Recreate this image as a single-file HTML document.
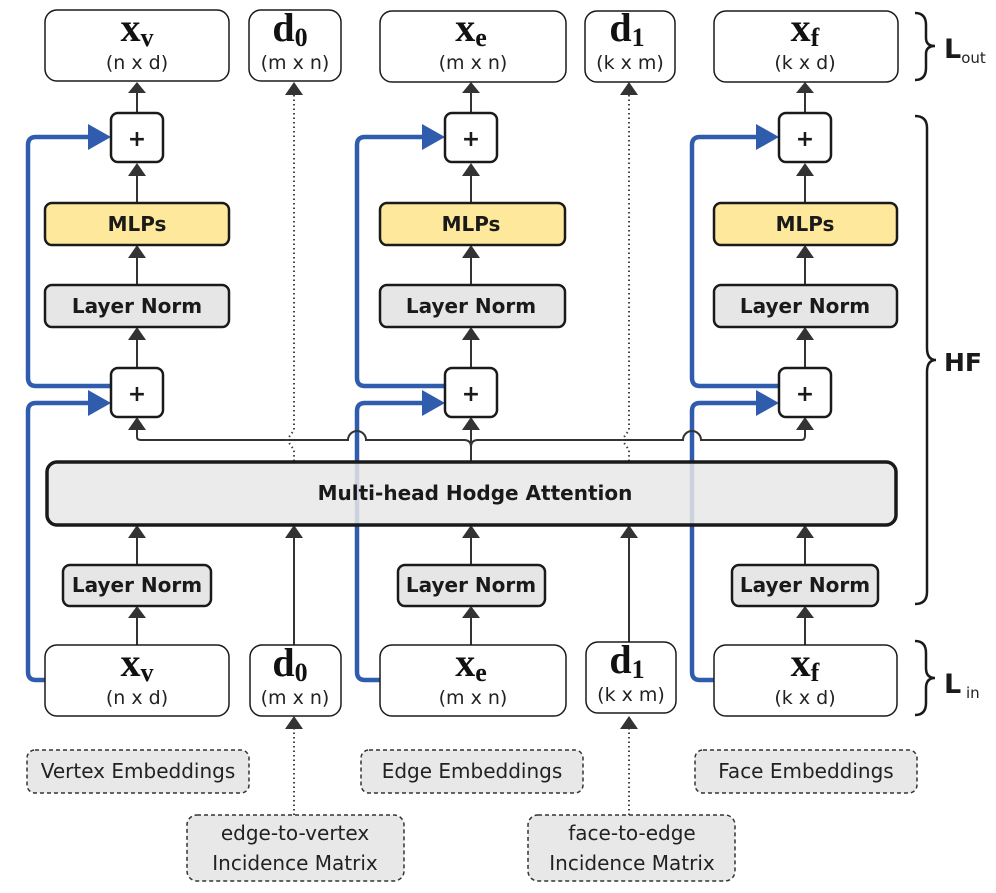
<!DOCTYPE html>
<html><head><meta charset="utf-8"><style>
html,body{margin:0;padding:0;background:#fff}
svg{display:block}
.b{font-family:"DejaVu Sans","Liberation Sans",sans-serif;font-weight:bold;fill:#1a1a1a}
.r{font-family:"DejaVu Sans","Liberation Sans",sans-serif;fill:#222}
.m{font-family:"Liberation Serif",serif;font-weight:bold;fill:#111}
</style></head><body>
<svg width="996" height="893" viewBox="0 0 996 893" xmlns="http://www.w3.org/2000/svg">
<g fill="none" stroke="#2f5cad" stroke-width="4.5" stroke-linejoin="round">
<path d="M45 680 H36 Q28 680 28 672 V411 Q28 403 36 403 H92"/>
<path d="M111 386 H36 Q28 386 28 378 V145 Q28 137 36 137 H92"/>
<path d="M380 680 H365 Q357 680 357 672 V411 Q357 403 365 403 H426"/>
<path d="M445 386 H365 Q357 386 357 378 V145 Q357 137 365 137 H426"/>
<path d="M714 680 H700 Q692 680 692 672 V411 Q692 403 700 403 H760"/>
<path d="M779 386 H700 Q692 386 692 378 V145 Q692 137 700 137 H760"/>
</g>
<g fill="#2f5cad">
<path d="M88 124 L111 137 L88 150Z"/><path d="M88 390 L111 403 L88 416Z"/>
<path d="M422 124 L445 137 L422 150Z"/><path d="M422 390 L445 403 L422 416Z"/>
<path d="M756 124 L779 137 L756 150Z"/><path d="M756 390 L779 403 L756 416Z"/>
</g>
<g stroke="#333" stroke-width="2" fill="none">
<path d="M137 113 V92 M137 203 V175 M137 285 V257 M137 368 V339"/>
<path d="M471 113 V92 M471 203 V175 M471 285 V257 M471 368 V339"/>
<path d="M805 113 V92 M805 203 V175 M805 285 V257 M805 368 V339"/>
<path d="M137 565 V537 M137 645 V617 M471 565 V537 M471 645 V617 M805 565 V537 M805 645 V617"/>
<path d="M294 645 V537 M629 645 V537"/>
<path d="M471 462 V447 Q471 440 478 440 M471 447 Q471 440 464 440"/>
<path d="M137 429 V437 Q137 440 141 440 H348 A9 9 0 0 1 366 440 H464 M478 440 H683 A9 9 0 0 1 701 440 H801 Q805 440 805 436 V429"/>
<path d="M471 429 V447"/>
</g>
<g stroke="#444" stroke-width="2" fill="none" stroke-dasharray="1.5 3">
<path d="M294 95 V430 L287 440 L294 450 V462"/>
<path d="M629 95 V430 L622 440 L629 450 V462"/>
<path d="M294 815 V728 M629 815 V728"/>
</g>
<g fill="#333">
<path d="M128 93 L137 82 L146 93Z M128 176 L137 163 L146 176Z M128 258 L137 245 L146 258Z M128 340 L137 327 L146 340Z M128 430 L137 417 L146 430Z"/>
<path d="M462 93 L471 82 L480 93Z M462 176 L471 163 L480 176Z M462 258 L471 245 L480 258Z M462 340 L471 327 L480 340Z M462 430 L471 417 L480 430Z"/>
<path d="M796 93 L805 82 L814 93Z M796 176 L805 163 L814 176Z M796 258 L805 245 L814 258Z M796 340 L805 327 L814 340Z M796 430 L805 417 L814 430Z"/>
<path d="M285 95 L294 82 L303 95Z M620 95 L629 82 L638 95Z"/>
<path d="M128 538 L137 525 L146 538Z M128 618 L137 606 L146 618Z M462 538 L471 525 L480 538Z M462 618 L471 606 L480 618Z M796 538 L805 525 L814 538Z M796 618 L805 606 L814 618Z"/>
<path d="M285 538 L294 525 L303 538Z M620 538 L629 525 L638 538Z"/>
<path d="M285 729 L294 716 L303 729Z M620 729 L629 716 L638 729Z"/>
</g>
<rect x="47" y="462" width="849" height="63" rx="10" fill="#e8e8e8" fill-opacity="0.85" stroke="#1a1a1a" stroke-width="3.5"/>
<text x="475" y="500" class="b" font-size="20" text-anchor="middle">Multi-head Hodge Attention</text>
<g stroke="#1a1a1a" stroke-width="1.5" fill="#fff">
<rect x="45" y="10" width="184" height="71" rx="12"/><rect x="249" y="10" width="92" height="71" rx="12"/>
<rect x="380" y="11" width="186" height="71" rx="12"/><rect x="585" y="11" width="90" height="71" rx="12"/>
<rect x="714" y="11" width="184" height="71" rx="12"/>
<rect x="45" y="645" width="184" height="71" rx="12"/><rect x="250" y="645" width="91" height="71" rx="12"/>
<rect x="380" y="645" width="186" height="71" rx="12"/><rect x="586" y="642" width="90" height="71" rx="12"/>
<rect x="714" y="645" width="183" height="71" rx="12"/>
</g>
<g stroke="#1a1a1a" stroke-width="2.5">
<g fill="#fff"><rect x="111" y="113" width="52" height="49" rx="7"/><rect x="111" y="368" width="52" height="49" rx="7"/>
<rect x="445" y="113" width="52" height="49" rx="7"/><rect x="445" y="368" width="52" height="49" rx="7"/>
<rect x="779" y="113" width="52" height="49" rx="7"/><rect x="779" y="368" width="52" height="49" rx="7"/></g>
<g fill="#fde89c"><rect x="45" y="203" width="184" height="42" rx="7"/><rect x="380" y="203" width="185" height="42" rx="7"/><rect x="714" y="203" width="183" height="42" rx="7"/></g>
<g fill="#e6e6e6"><rect x="45" y="285" width="184" height="42" rx="7"/><rect x="380" y="285" width="185" height="42" rx="7"/><rect x="714" y="285" width="183" height="42" rx="7"/>
<rect x="63" y="565" width="148" height="41" rx="7"/><rect x="398" y="565" width="147" height="41" rx="7"/><rect x="732" y="565" width="146" height="41" rx="7"/></g>
</g>
<g stroke="#333" stroke-width="1.5" stroke-dasharray="4 3" fill="#e8e8e8">
<rect x="27" y="750" width="222" height="43" rx="8"/><rect x="361" y="750" width="222" height="43" rx="8"/><rect x="695" y="750" width="222" height="43" rx="8"/>
<rect x="187" y="815" width="217" height="66" rx="10"/><rect x="528" y="815" width="207" height="66" rx="10"/>
</g>
<g class="b" font-size="22" text-anchor="middle">
<text x="137" y="146">+</text><text x="137" y="401">+</text><text x="471" y="146">+</text><text x="471" y="401">+</text><text x="805" y="146">+</text><text x="805" y="401">+</text>
</g>
<g class="b" font-size="20" text-anchor="middle">
<text x="137" y="231">MLPs</text><text x="471" y="231">MLPs</text><text x="805" y="231">MLPs</text>
<text x="137" y="313">Layer Norm</text><text x="471" y="313">Layer Norm</text><text x="805" y="313">Layer Norm</text>
<text x="137" y="592">Layer Norm</text><text x="471" y="592">Layer Norm</text><text x="805" y="592">Layer Norm</text>
</g>
<g class="m" text-anchor="middle" font-size="40">
<text x="137" y="41">x<tspan font-size="26" dy="5">v</tspan></text>
<text x="290" y="41">d<tspan font-size="26" dy="5">0</tspan></text>
<text x="471" y="41">x<tspan font-size="26" dy="5">e</tspan></text>
<text x="627" y="41">d<tspan font-size="26" dy="5">1</tspan></text>
<text x="805" y="41">x<tspan font-size="26" dy="5">f</tspan></text>
<text x="137" y="676">x<tspan font-size="26" dy="5">v</tspan></text>
<text x="290" y="676">d<tspan font-size="26" dy="5">0</tspan></text>
<text x="471" y="676">x<tspan font-size="26" dy="5">e</tspan></text>
<text x="627" y="673">d<tspan font-size="26" dy="5">1</tspan></text>
<text x="805" y="676">x<tspan font-size="26" dy="5">f</tspan></text>
</g>
<g class="r" text-anchor="middle" font-size="19">
<text x="137" y="69">(n x d)</text><text x="295" y="69">(m x n)</text><text x="473" y="69">(m x n)</text><text x="630" y="69">(k x m)</text><text x="805" y="69">(k x d)</text>
<text x="137" y="704">(n x d)</text><text x="295" y="704">(m x n)</text><text x="473" y="704">(m x n)</text><text x="631" y="701">(k x m)</text><text x="805" y="704">(k x d)</text>
</g>
<g class="r" text-anchor="middle" font-size="20">
<text x="138" y="778">Vertex Embeddings</text><text x="472" y="778">Edge Embeddings</text><text x="806" y="778">Face Embeddings</text>
<text x="295" y="840">edge-to-vertex</text><text x="295" y="870">Incidence Matrix</text>
<text x="632" y="840">face-to-edge</text><text x="632" y="870">Incidence Matrix</text>
</g>
<g stroke="#1a1a1a" stroke-width="2.5" fill="none">
<path d="M915 13 Q926 13 926 25 V38 Q926 46 935 46 Q926 46 926 54 V68 Q926 80 915 80"/>
<path d="M915 116 Q927 116 927 128 V348 Q927 360 936 360 Q927 360 927 372 V592 Q927 604 915 604"/>
<path d="M915 641 Q926 641 926 653 V668 Q926 678 935 678 Q926 678 926 688 V703 Q926 715 915 715"/>
</g>
<text x="944" y="58" class="b" font-size="27">L<tspan class="r" font-weight="normal" font-size="15" dy="5">out</tspan></text>
<text x="944" y="371" class="b" font-size="25">HF</text>
<text x="944" y="693" class="b" font-size="27">L<tspan class="r" font-weight="normal" font-size="15" dy="5"> in</tspan></text>
</svg>
</body></html>
